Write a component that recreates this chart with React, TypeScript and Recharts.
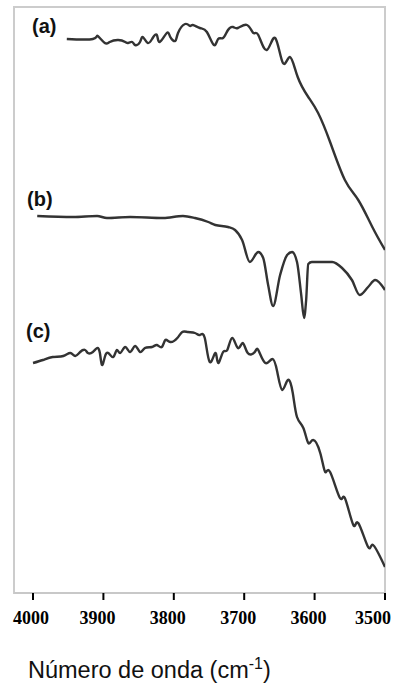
import React from 'react';
import { LineChart, Line, XAxis, YAxis, ReferenceArea } from 'recharts';

// wavenumber (cm-1) / transmittance (arbitrary, offset per spectrum)
const waveA = [3952, 3915, 3908, 3898, 3891, 3879, 3869, 3865, 3859, 3855, 3848, 3844, 3837, 3830, 3824, 3820, 3810, 3805, 3798, 3794, 3784, 3777, 3773, 3763, 3753, 3743, 3737, 3730, 3723, 3716, 3709, 3696, 3687, 3680, 3668, 3656, 3645, 3635, 3624, 3609, 3595, 3578, 3557, 3538, 3518, 3500];
const transA = [554, 554, 557, 550, 551, 553, 551, 550, 551, 548, 551, 556, 550, 555, 558, 551, 560, 556, 552, 560, 569, 567, 568, 565, 561, 548, 554, 555, 563, 566, 565, 568, 560, 558, 543, 555, 530, 536, 516, 496, 480, 451, 413, 393, 366, 343];

const waveB = [3994, 3943, 3909, 3895, 3862, 3815, 3787, 3770, 3751, 3741, 3723, 3713, 3703, 3692, 3680, 3673, 3666, 3659, 3649, 3639, 3632, 3625, 3619, 3615, 3612, 3609, 3604, 3575, 3561, 3547, 3536, 3524, 3514, 3500];
const transB = [377, 376, 377, 375, 376, 375, 377, 375, 371, 368, 366, 363, 353, 331, 341, 335, 308, 287, 318, 338, 341, 331, 298, 275, 293, 329, 331, 331, 325, 313, 298, 306, 313, 303];

const waveC = [4000, 3986, 3972, 3957, 3947, 3940, 3933, 3926, 3922, 3915, 3909, 3905, 3902, 3898, 3893, 3886, 3881, 3876, 3869, 3862, 3855, 3848, 3841, 3831, 3824, 3817, 3812, 3805, 3795, 3788, 3780, 3770, 3763, 3756, 3749, 3741, 3737, 3730, 3724, 3717, 3709, 3702, 3695, 3685, 3680, 3670, 3660, 3653, 3646, 3638, 3631, 3625, 3616, 3609, 3602, 3592, 3585, 3578, 3564, 3557, 3545, 3538, 3524, 3517, 3500];
const transC = [230, 233, 236, 237, 240, 237, 241, 243, 240, 241, 245, 240, 228, 236, 240, 236, 243, 240, 246, 241, 247, 241, 245, 246, 248, 246, 253, 251, 255, 261, 261, 260, 258, 255, 231, 240, 230, 241, 243, 255, 245, 250, 240, 241, 243, 230, 234, 221, 203, 213, 200, 176, 165, 150, 153, 140, 121, 121, 95, 95, 68, 70, 46, 48, 26];

const xTicks = [4000, 3900, 3800, 3700, 3600, 3500];
const spectrumLabels = ['(a)', '(b)', '(c)'];

const toPoints = (wave: number[], trans: number[]) =>
  wave.map((w, i) => ({ wn: w, t: trans[i] }));

const dataA = toPoints(waveA, transA);
const dataB = toPoints(waveB, transB);
const dataC = toPoints(waveC, transC);

const TickLabel = (props: any) => {
  const { x, y, payload, index } = props;
  return (
    <text
      x={x}
      y={y}
      dx={index === 0 ? -2 : -6}
      dy={22}
      textAnchor="middle"
      fill="#000"
      fontFamily="'Liberation Serif', serif"
      fontWeight="bold"
      fontSize={18}
    >
      {payload.value}
    </text>
  );
};

const labelPos = [
  { left: 32, top: 16 },
  { left: 27, top: 189 },
  { left: 26, top: 321 },
];

export default function App() {
  return (
    <div style={{ position: 'absolute', left: 0, top: 0, width: 395, height: 691, background: '#fff' }}>
      <LineChart width={395} height={691} margin={{ top: 7, right: 10, bottom: 68, left: 14 }}>
        <XAxis
          type="number"
          dataKey="wn"
          domain={[3500, 4027]}
          reversed
          ticks={xTicks}
          allowDataOverflow
          height={30}
          axisLine={{ stroke: '#c8c8c8', strokeWidth: 2 }}
          tickLine={{ stroke: '#000', strokeWidth: 2 }}
          tickSize={7}
          tick={<TickLabel />}
        />
        <YAxis type="number" domain={[0, 586]} hide />
        <ReferenceArea
          x1={4027}
          x2={3500}
          y1={0}
          y2={586}
          fill="none"
          stroke="#cccccc"
          strokeWidth={2}
          ifOverflow="visible"
        />
        <Line data={dataA} dataKey="t" type="natural" stroke="#333" strokeWidth={2.4} dot={false} isAnimationActive={false} />
        <Line data={dataB} dataKey="t" type="monotone" stroke="#333" strokeWidth={2.4} dot={false} isAnimationActive={false} />
        <Line data={dataC} dataKey="t" type="natural" stroke="#333" strokeWidth={2.4} dot={false} isAnimationActive={false} />
      </LineChart>
      {spectrumLabels.map((s, i) => (
        <div
          key={s}
          style={{
            position: 'absolute',
            left: labelPos[i].left,
            top: labelPos[i].top,
            fontFamily: "'Liberation Sans', Arial, sans-serif",
            fontWeight: 'bold',
            fontSize: 20,
            lineHeight: '20px',
            color: '#111',
          }}
        >
          {s}
        </div>
      ))}
      <div
        style={{
          position: 'absolute',
          left: 28,
          top: 651,
          fontFamily: "'Liberation Sans', Arial, sans-serif",
          fontSize: 23.5,
          lineHeight: '26px',
          color: '#111',
          whiteSpace: 'nowrap',
        }}
      >
        Número de onda (cm<sup style={{ fontSize: 16 }}>-1</sup>)
      </div>
    </div>
  );
}
